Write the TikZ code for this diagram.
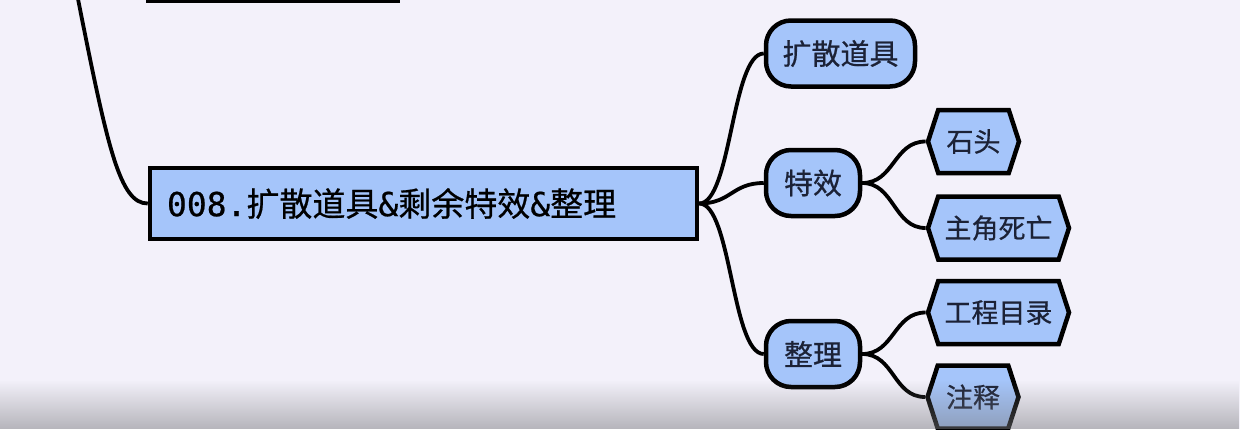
\documentclass[tikz,border=0pt]{standalone}
\usepackage{fontspec}
\usepackage{xcolor}
\usepackage{tikz}
\usetikzlibrary{shapes.symbols,fadings}
\newfontfamily\cjk[FakeBold=0.6]{Noto Sans CJK SC}
\newfontfamily\mono[FakeBold=0.6]{DejaVu Sans Mono}
\definecolor{paper}{HTML}{F3F1FA}
\definecolor{topicfill}{HTML}{A5C5FA}
\definecolor{ink}{HTML}{1C2236}

\begin{document}
\begin{tikzpicture}[
  x=1pt, y=-1pt,
  chapter/.style={draw=black,fill=topicfill,line width=4.5pt,minimum width=547pt,minimum height=71pt,
    text width=513pt,align=left,inner xsep=17pt,inner ysep=0pt,text=black,font=\cjk\fontsize{33}{36}\selectfont},
  topic/.style={draw=black,fill=topicfill,line width=4.5pt,rounded corners=25pt,minimum height=66pt,
    inner sep=0pt,text=ink,font=\cjk\fontsize{29}{32}\selectfont},
  leaf/.style={draw=black,fill=topicfill,line width=4.5pt,shape=signal,signal to=east and west,
    signal pointer angle=144,minimum height=63pt,inner sep=0pt,text=ink,font=\cjk\fontsize{27}{30}\selectfont},
  branch/.style={line width=3.8pt,draw=black}
]
\fill[paper] (0,0) rectangle (1240,429);
\clip (0,0) rectangle (1240,429);
% previous chapter, mostly above the frame
\node[chapter,minimum width=250pt,text width=216pt] (prev) at (273,-35) {};
\coordinate (up) at (78,-1);
\node[chapter] (main) at (423.5,203.5) {{\mono 008.}扩散道具{\mono\&}剩余特效{\mono\&}整理};
\node[topic,minimum width=149pt] (tool) at (840.5,53.5) {扩散道具};
\node[topic,minimum width=94pt] (fx) at (813,183) {特效};
\node[topic,minimum width=94pt] (tidy) at (813,354) {整理};
\node[leaf,minimum width=91pt] (stone) at (973.5,141.5) {石头};
\node[leaf,minimum width=141pt] (death) at (998.5,228) {主角死亡};
\node[leaf,minimum width=141pt] (dir) at (998.5,312.5) {工程目录};
\node[leaf,minimum width=91pt] (note) at (973,397) {注释};
\draw[branch] (up) .. controls (108,150) and (120,203.5) .. (main.west);
\foreach \kid in {tool,fx,tidy}
  \draw[branch] (main.east) .. controls +(32,0) and +(-32,0) .. (\kid.west);
\foreach \kid in {stone,death}
  \draw[branch] (fx.east) .. controls +(32,0) and +(-32,0) .. (\kid.west);
\foreach \kid in {dir,note}
  \draw[branch] (tidy.east) .. controls +(32,0) and +(-32,0) .. (\kid.west);
% player bar fading in at the bottom
\fill[black!50!paper,path fading=north,opacity=0.5] (0,380) rectangle (1240,429);
\end{tikzpicture}
\end{document}
